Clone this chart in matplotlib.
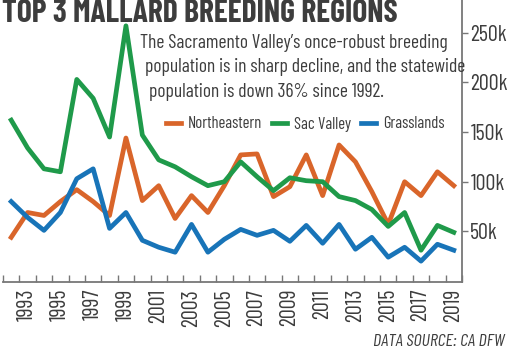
import numpy as np
import matplotlib.pyplot as plt

# Datos (miles de patos)
anios = list(range(1992, 2020))
northeastern = [44, 69, 66, 80, 92, 80, 66, 144, 81, 96, 63, 86, 69, 96,
                127, 128, 85, 95, 127, 86, 137, 120, 90, 57, 100, 86, 110, 96]
sac_valley = [162, 134, 113, 110, 203, 184, 145, 257, 147, 122, 115, 105, 96, 100,
              120, 105, 91, 104, 101, 100, 85, 81, 72, 55, 69, 31, 56, 49]
grasslands = [80, 64, 51, 69, 103, 113, 53, 69, 41, 34, 29, 57, 29, 42,
              52, 46, 51, 40, 56, 38, 57, 32, 44, 24, 34, 20, 37, 31]

etiquetas_y = ["50k", "100k", "150k", "200k", "250k"]
valores_y = [50, 100, 150, 200, 250]

plt.rcParams["font.family"] = ["Barlow Condensed", "DejaVu Sans"]

gris = "#3d3d3d"
naranja = "#d9652a"
verde = "#1f9a4a"
azul = "#1874b8"

W, H = 512, 350
fig = plt.figure(figsize=(W / 100, H / 100), dpi=100)
ax = fig.add_axes([3 / W, 1 - 282 / H, (462 - 3) / W, 282 / H])

ax.plot(anios, northeastern, color=naranja, lw=3.4, label="Northeastern")
ax.plot(anios, sac_valley, color=verde, lw=3.4, label="Sac Valley")
ax.plot(anios, grasslands, color=azul, lw=3.4, label="Grasslands")

ax.set_xlim(1991.5, 2019.5)
ax.set_ylim(-1, 283)

# ejes: solo derecho e inferior
for lado in ["left", "top"]:
    ax.spines[lado].set_visible(False)
for lado in ["right", "bottom"]:
    ax.spines[lado].set_color("#777777")
    ax.spines[lado].set_linewidth(1.3)

ax.yaxis.tick_right()
ax.set_yticks(valores_y)
ax.set_yticklabels(etiquetas_y)
ax.tick_params(axis="y", direction="out", length=4, width=1, color="#777777",
               labelsize=16, labelcolor=gris, pad=2)

# ticks en los bordes de cada año, etiquetas en años impares
ax.set_xticks(np.arange(1991.5, 2020, 1))
ax.set_xticklabels([])
ax.tick_params(axis="x", which="major", direction="in", length=5, width=1, color="#777777")
ax.set_xticks(list(range(1993, 2020, 2)), minor=True)
ax.set_xticklabels([str(a) for a in range(1993, 2020, 2)], minor=True, rotation=90)
ax.tick_params(axis="x", which="minor", length=0, labelsize=16, labelcolor=gris, pad=5)

fig.text(2 / W, 1 - 22 / H, "TOP 3 MALLARD BREEDING REGIONS", fontsize=22.8, fontweight="bold",
         color=gris, va="baseline", ha="left")
subtitulo = [("The Sacramento Valley\u2019s once-robust breeding", 140),
             ("population is in sharp decline, and the statewide", 145),
             ("population is down 36% since 1992.", 149)]
for i, (linea, x0) in enumerate(subtitulo):
    fig.text(x0 / W, 1 - (48 + i * 24.5) / H, linea, fontsize=14, color=gris,
             va="baseline", ha="left")

ax.legend(loc="center", bbox_to_anchor=(305 / W, 1 - 124 / H), bbox_transform=fig.transFigure,
          ncol=3, frameon=False, handlelength=0.9, columnspacing=0.6, handletextpad=0.42,
          prop={"size": 12}, labelcolor=gris)

fig.text(505 / W, 1 - 346 / H, "DATA SOURCE: CA DFW", fontsize=13, fontstyle="italic",
         color=gris, ha="right", va="baseline")

fig.savefig("out.png", dpi=100)
